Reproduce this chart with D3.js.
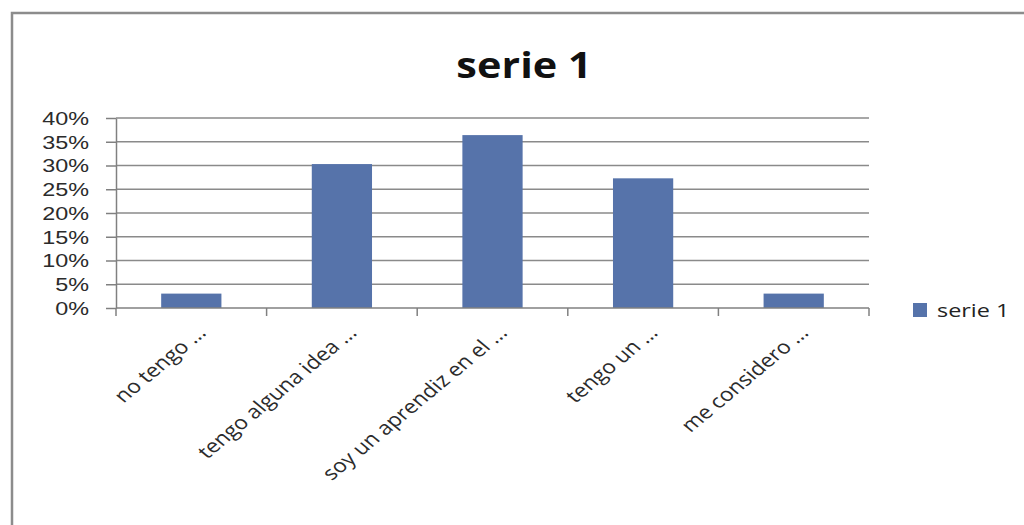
<!DOCTYPE html>
<meta charset="utf-8">
<head>
  <title>serie 1</title>
  <style>
    body { margin: 0; background: #fff; font-family: "Open Sans", sans-serif; }
    .grid line { stroke: #8a8a8a; stroke-width: 1.5; }
    .axis path, .axis line { stroke: #808080; stroke-width: 1.5; }
    .axis text { fill: #2b2b2b; }
  </style>
  <script src="https://d3js.org/d3.v7.min.js"></script>
</head>
<body>
  <svg width="1024" height="525"></svg>
  <script>
var categories = ["no tengo ...", "tengo alguna idea ...", "soy un aprendiz en el ...", "tengo un ...", "me considero ..."];
var values = [0.0303, 0.303, 0.364, 0.273, 0.0303];
var yTicks = [0, 0.05, 0.10, 0.15, 0.20, 0.25, 0.30, 0.35, 0.40];
var seriesName = "serie 1";

var svg = d3.select("svg");
var fmt = d3.format(".0%");

// chart frame (runs off the right and bottom edge)
svg.append("rect")
  .attr("x", 12).attr("y", 13)
  .attr("width", 1030).attr("height", 530)
  .attr("fill", "#fff").attr("stroke", "#8c8c8c").attr("stroke-width", 2.5);

var x = d3.scaleBand().domain(categories).range([116, 869]).paddingInner(0.6).paddingOuter(0.3);
var y = d3.scaleLinear().domain([0, 0.4]).range([308, 118]);

svg.append("g").attr("class", "grid")
  .selectAll("line").data(yTicks.slice(1)).enter().append("line")
  .attr("x1", 116).attr("x2", 869)
  .attr("y1", d => y(d)).attr("y2", d => y(d));

svg.append("g").selectAll("rect").data(values).enter().append("rect")
  .attr("x", (d, i) => x(categories[i]))
  .attr("width", x.bandwidth())
  .attr("y", d => y(d))
  .attr("height", d => y(0) - y(d))
  .attr("fill", "#5673aa");

// y axis: ticks from d3, labels stretched a bit wider like the picture
var yAxis = svg.append("g").attr("class", "axis")
  .attr("transform", "translate(116,0)")
  .call(d3.axisLeft(y).tickValues(yTicks).tickFormat("").tickSize(10).tickSizeOuter(0));
yAxis.selectAll(".tick").append("text")
  .attr("text-anchor", "end")
  .attr("transform", "translate(-27,0) scale(1.3,1)")
  .attr("dy", "0.36em")
  .style("font-size", "18px")
  .text(d => fmt(d));

// x axis with tick marks between categories
var xAxis = svg.append("g").attr("class", "axis");
xAxis.append("line").attr("x1", 116).attr("x2", 869).attr("y1", y(0)).attr("y2", y(0));
xAxis.selectAll(".sep").data(d3.range(categories.length + 1)).enter().append("line")
  .attr("x1", i => 116 + i * (753 / categories.length))
  .attr("x2", i => 116 + i * (753 / categories.length))
  .attr("y1", y(0)).attr("y2", y(0) + 8);

xAxis.selectAll(".lbl").data(categories).enter().append("text")
  .attr("text-anchor", "end")
  .attr("transform", d => "translate(" + (x(d) + x.bandwidth() / 2 + 16) + ",334) scale(1.2,1) rotate(-45)")
  .style("font-size", "19px")
  .text(d => d);

svg.append("text")
  .attr("text-anchor", "middle")
  .attr("transform", "translate(524,78) scale(1.15,1)")
  .style("font-size", "36px").style("font-weight", "bold").style("fill", "#111")
  .text(seriesName);

var legend = svg.append("g").attr("transform", "translate(913,303)");
legend.append("rect").attr("width", 14).attr("height", 14).attr("fill", "#5673aa");
legend.append("text").attr("transform", "translate(24,14) scale(1.3,1)")
  .style("font-size", "18px").style("fill", "#222").text(seriesName);
  </script>
</body>
</html>
